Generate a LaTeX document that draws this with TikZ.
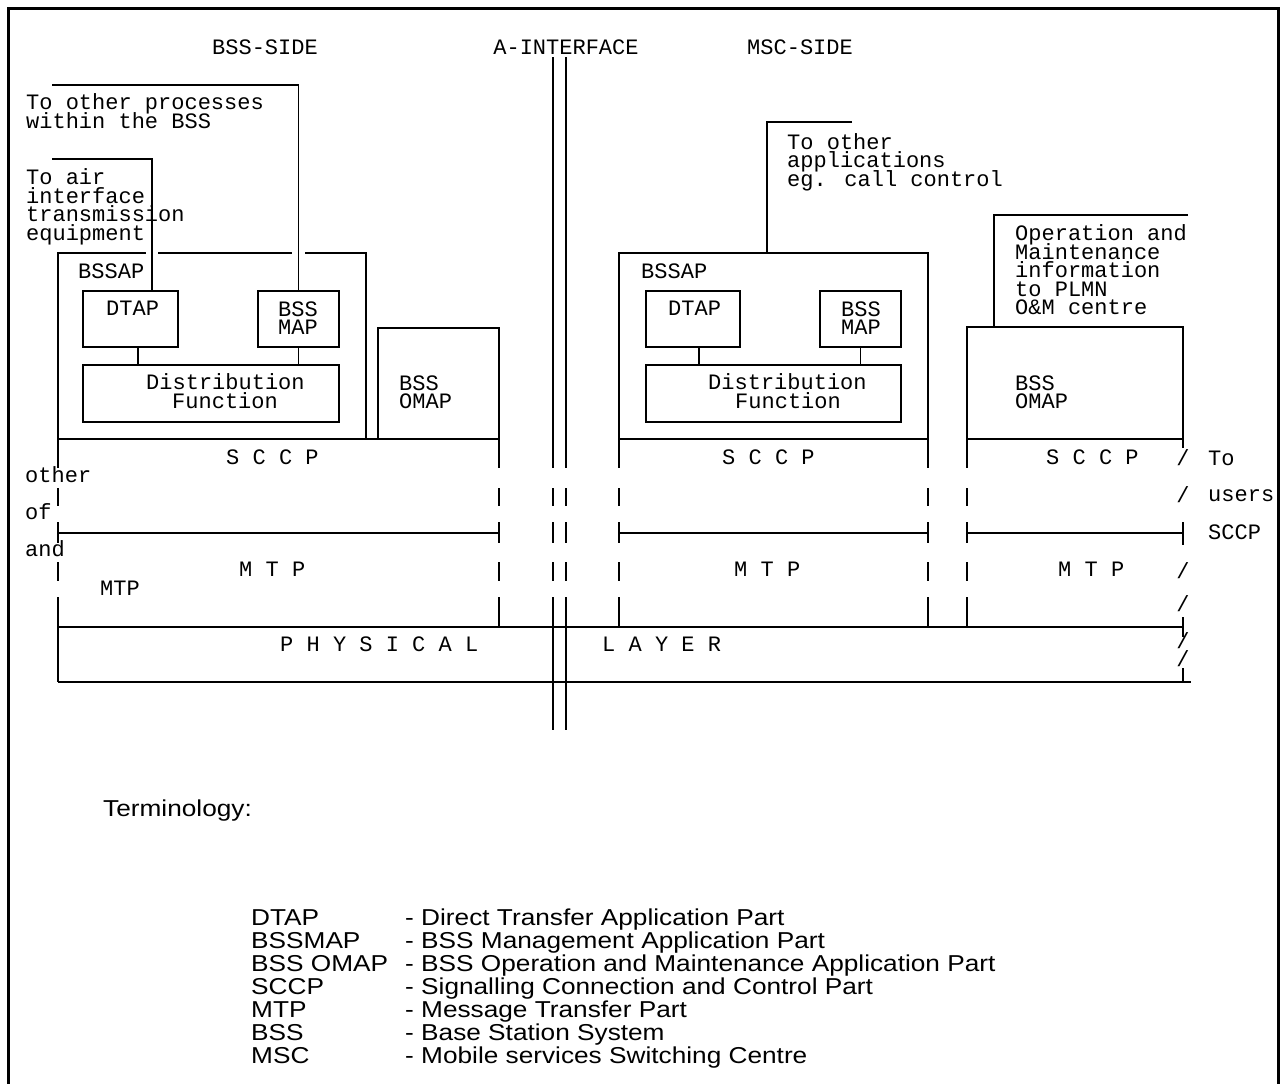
\documentclass[tikz,border=0pt]{standalone}
\usepackage{fontspec}
\newfontfamily\monofont{Liberation Mono}
\newfontfamily\termfont[FakeStretch=1.14]{Liberation Sans}
\tikzset{
  ln/.style={line width=1.3pt},
  blk/.style={draw, line width=1.3pt, inner sep=0pt, outer sep=0pt, anchor=north west},
  mt/.style={font=\monofont\fontsize{22}{22}\selectfont, inner sep=0pt, anchor=base west},
  mc/.style={mt, anchor=base},
  tt/.style={font=\termfont\fontsize{23}{23}\selectfont, inner sep=0pt, anchor=base west},
  frm/.style={line width=3pt},
  gapw/.style={white, line width=3pt}
}
\begin{document}
\begin{tikzpicture}[x=1pt,y=-1pt]
\useasboundingbox (0,0) rectangle (1285,1084);
% frame
\draw[frm] (8,1090) -- (8,8) -- (1278,8) -- (1278,1090);

% headings
\node[mc] (hbss) at (265,54) {BSS-SIDE};
\node[mc] (hai) at (566,54) {A-INTERFACE};
\node[mc] (hmsc) at (800,54) {MSC-SIDE};

% ---------- BSS side boxes
\node[blk, minimum width=308pt, minimum height=186pt] (bssapL) at (58,253) {};
\node[blk, minimum width=95pt, minimum height=56pt] (dtapL) at (83,291) {};
\node[blk, minimum width=81pt, minimum height=56pt] (bmapL) at (258,291) {};
\node[blk, minimum width=256pt, minimum height=57pt] (dfL) at (83,365) {};
\node[blk, minimum width=121pt, minimum height=111pt] (omapL) at (378,328) {};

% ---------- MSC side boxes
\node[blk, minimum width=309pt, minimum height=186pt] (bssapR) at (619,253) {};
\node[blk, minimum width=94pt, minimum height=56pt] (dtapR) at (646,291) {};
\node[blk, minimum width=81pt, minimum height=56pt] (bmapR) at (820,291) {};
\node[blk, minimum width=255pt, minimum height=57pt] (dfR) at (646,365) {};
\node[blk, minimum width=216pt, minimum height=112pt] (omapR) at (967,327) {};

% gaps in BSSAP top line
\draw[gapw] (145.5,253) -- (158,253);
\draw[gapw] (291.5,253) -- (305,253);

% free ends of outgoing lines
\coordinate (procEnd) at (52,85);
\coordinate (airEnd) at (52,159);
\coordinate (appEnd) at (852,122);
\coordinate (omEnd) at (1188,215);

% connectors
\draw[ln] (procEnd) -| (bmapL.north);
\draw[ln] (airEnd) -| ([xshift=21.5pt]dtapL.north);
\draw[ln] ([xshift=7.5pt]dtapL.south) -- ([xshift=7.5pt]dtapL.south |- dfL.north);
\draw[ln] (bmapL.south) -- (bmapL.south |- dfL.north);
\draw[ln] (appEnd) -| ([xshift=-6.5pt]bssapR.north);
\draw[ln] ([xshift=6pt]dtapR.south) -- ([xshift=6pt]dtapR.south |- dfR.north);
\draw[ln] (bmapR.south) -- (bmapR.south |- dfR.north);
\draw[ln] (omEnd) -| ([xshift=27pt]omapR.north west);

% ---------- layers
\draw[ln] (58,439) -- (499,439);
\draw[ln] (58,533) -- (499,533);
\draw[ln] (619,533) -- (928,533);
\draw[ln] (967,533) -- (1183,533);
\draw[ln] (58,627) -- (1183,627);
\draw[ln] (58,682) -- (1191,682);
\draw[ln] (58,627) -- (58,682);
\foreach \xx in {58,499,619,928,967}{
  \foreach \ya/\yb in {439/468,488/506,522/543,562/581,597/627}{
    \draw[ln] (\xx,\ya) -- (\xx,\yb);
  }
}
% A-interface
\foreach \xx in {553,566}{
  \foreach \ya/\yb in {57/468,488/506,522/543,562/581,597/730}{
    \draw[ln] (\xx,\ya) -- (\xx,\yb);
  }
}
% right edge ticks
\foreach \ya/\yb in {439/448,522/545,617/637,668/682}{
  \draw[ln] (1183,\ya) -- (1183,\yb);
}
\foreach \yy [count=\i] in {465.5,502.5,578.5,611.5,648.5,666.5}{
  \node[mc] (sl\i) at (1183,\yy) {/};
}

% ---------- texts BSS side
\node[mt] (t1) at (26,109) {To other processes};
\node[mt] (t2) at (26,128) {within the BSS};
\node[mt] (t3) at (26,184.5) {To air};
\node[mt] (t4) at (26,203) {interface};
\node[mt] (t5) at (26,221.5) {transmission};
\node[mt] (t6) at (26,240) {equipment};
\node[mt] (t7) at (78,278.5) {BSSAP};
\node[mt] (t8) at (106,315.5) {DTAP};
\node[mt] (t9) at (278,316.5) {BSS};
\node[mt] (t10) at (278,334.5) {MAP};
\node[mt] (t11) at (146,389.5) {Distribution};
\node[mt] (t12) at (172,408) {Function};
\node[mt] (t13) at (399,390) {BSS};
\node[mt] (t14) at (399,408.5) {OMAP};
\node[mt] (t15) at (226,464) {S C C P};
\node[mt] (t16) at (25,482.5) {other};
\node[mt] (t17) at (25,519) {of};
\node[mt] (t18) at (25,556) {and};
\node[mt] (t19) at (239,576) {M T P};
\node[mt] (t20) at (100,595) {MTP};
\node[mt] (t21) at (280,651) {P H Y S I C A L};
\node[mt] (t22) at (602,651) {L A Y E R};

% ---------- texts MSC side
\node[mt] (u1) at (787,149) {To other};
\node[mt] (u2) at (787,167.5) {applications};
\node[mt] (u3) at (787,186) {eg. call control};
\node[mt] (u4) at (641,278.5) {BSSAP};
\node[mt] (u5) at (668,315.5) {DTAP};
\node[mt] (u6) at (841,316.5) {BSS};
\node[mt] (u7) at (841,334.5) {MAP};
\node[mt] (u8) at (708,389.5) {Distribution};
\node[mt] (u9) at (735,408) {Function};
\node[mt] (u10) at (1015,240.5) {Operation and};
\node[mt] (u11) at (1015,259) {Maintenance};
\node[mt] (u12) at (1015,277.5) {information};
\node[mt] (u13) at (1015,296) {to PLMN};
\node[mt] (u14) at (1015,314.5) {O\&M centre};
\node[mt] (u15) at (1015,390) {BSS};
\node[mt] (u16) at (1015,408.5) {OMAP};
\node[mt] (u17) at (722,464) {S C C P};
\node[mt] (u18) at (1046,464) {S C C P};
\node[mt] (u19) at (734,576) {M T P};
\node[mt] (u20) at (1058,576) {M T P};
\node[mt] (u21) at (1208,465) {To};
\node[mt] (u22) at (1208,501) {users};
\node[mt] (u23) at (1208,539.5) {SCCP};

% ---------- terminology
\node[tt] (term) at (103,816) {Terminology:};
\foreach \a/\b [count=\i] in {DTAP/- Direct Transfer Application Part,
  BSSMAP/- BSS Management Application Part,
  BSS OMAP/- BSS Operation and Maintenance Application Part,
  SCCP/- Signalling Connection and Control Part,
  MTP/- Message Transfer Part,
  BSS/- Base Station System,
  MSC/- Mobile services Switching Centre}{
  \node[tt] (ta\i) at (251,902+23*\i) {\a};
  \node[tt] (tb\i) at (405,902+23*\i) {\b};
}
\end{tikzpicture}
\end{document}
